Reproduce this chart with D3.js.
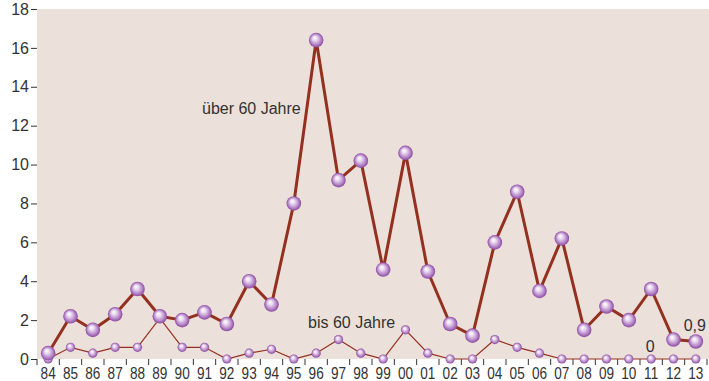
<!DOCTYPE html>
<html>
<head>
<meta charset="utf-8">
<script src="https://cdn.jsdelivr.net/npm/d3@7"></script>
<style>
  html, body { margin: 0; padding: 0; background: #ffffff; }
  svg { display: block; }
</style>
</head>
<body>
<svg id="chart" width="709" height="381"></svg>
<script>
const years = ["84","85","86","87","88","89","90","91","92","93","94","95","96","97","98","99","00","01","02","03","04","05","06","07","08","09","10","11","12","13"];
const ueber60 = [0.3,2.2,1.5,2.3,3.6,2.2,2.0,2.4,1.8,4.0,2.8,8.0,16.4,9.2,10.2,4.6,10.6,4.5,1.8,1.2,6.0,8.6,3.5,6.2,1.5,2.7,2.0,3.6,1.0,0.9];
const bis60 = [0,0.6,0.3,0.6,0.6,2.1,0.6,0.6,0,0.3,0.5,0,0.3,1.0,0.3,0,1.5,0.3,0,0,1.0,0.6,0.3,0,0,0,0,0,0,0];
const yTicks = [0,2,4,6,8,10,12,14,16,18];
const seriesLabels = ["über 60 Jahre", "bis 60 Jahre"];

const svg = d3.select("#chart");
const mLeft = 37, mRight = 707, mTop = 9, mBottom = 359;

const x = d3.scaleBand().domain(years).range([mLeft, mRight]).padding(0);
const y = d3.scaleLinear().domain([0, 18]).range([mBottom, mTop]);
const cx = d => x(d) + x.bandwidth() / 2;

// gradient for spheres
const defs = svg.append("defs");
const grad = defs.append("radialGradient").attr("id", "sphere")
  .attr("cx", "50%").attr("cy", "50%").attr("r", "50%")
  .attr("fx", "38%").attr("fy", "32%");
grad.append("stop").attr("offset", "0%").attr("stop-color", "#ffffff");
grad.append("stop").attr("offset", "30%").attr("stop-color", "#ecdcf2");
grad.append("stop").attr("offset", "70%").attr("stop-color", "#b98bcb");
grad.append("stop").attr("offset", "100%").attr("stop-color", "#8a4a9e");

// background
svg.append("rect").attr("x", mLeft).attr("y", mTop)
  .attr("width", 709 - mLeft).attr("height", mBottom - mTop)
  .attr("fill", "#ece0da");

// y axis
const yAxis = d3.axisLeft(y).tickValues(yTicks).tickSize(6).tickPadding(2).tickFormat(d3.format("d"));
const gy = svg.append("g").attr("transform", `translate(${mLeft},0)`).call(yAxis);
gy.select(".domain").remove();
gy.selectAll(".tick line").attr("stroke", "#333").attr("stroke-width", 1);
gy.selectAll(".tick text").attr("fill", "#333")
  .style("font-family", "'Liberation Sans', Arial, sans-serif").style("font-size", "16px");

// x axis labels
const xAxis = d3.axisBottom(x).tickSize(0).tickPadding(8);
const gx = svg.append("g").attr("transform", `translate(0,${mBottom})`).call(xAxis);
gx.select(".domain").remove();
gx.selectAll(".tick text").attr("fill", "#333")
  .attr("transform", "scale(0.8,1)")
  .style("font-family", "'Liberation Sans', Arial, sans-serif")
  .style("font-size", "17px");
// boundary ticks
const bounds = years.map(d => x(d)).concat([x(years[years.length - 1]) + x.bandwidth()]);
svg.append("g").selectAll("line").data(bounds).join("line")
  .attr("x1", d => d).attr("x2", d => d)
  .attr("y1", mBottom).attr("y2", mBottom + 6)
  .attr("stroke", "#333").attr("stroke-width", 1);

const line = d3.line().x((d, i) => cx(years[i])).y(d => y(d));
const lineColor = "#94301f";

svg.append("path").datum(bis60).attr("d", line)
  .attr("fill", "none").attr("stroke", lineColor).attr("stroke-width", 1.2);
svg.append("path").datum(ueber60).attr("d", line)
  .attr("fill", "none").attr("stroke", lineColor).attr("stroke-width", 3)
  .attr("stroke-linejoin", "round");

svg.append("g").selectAll("circle").data(bis60).join("circle")
  .attr("cx", (d, i) => cx(years[i])).attr("cy", d => y(d)).attr("r", 4.6)
  .attr("fill", "url(#sphere)");
svg.append("g").selectAll("circle").data(ueber60).join("circle")
  .attr("cx", (d, i) => cx(years[i])).attr("cy", d => y(d)).attr("r", 7.3)
  .attr("fill", "url(#sphere)");

const txt = (t, xx, yy, anchor) => svg.append("text").text(t)
  .attr("x", xx).attr("y", yy).attr("text-anchor", anchor || "start")
  .attr("fill", "#333")
  .style("font-family", "'Liberation Sans', Arial, sans-serif").style("font-size", "16px");

txt(seriesLabels[0], 202, 114);
txt(seriesLabels[1], 308, 328);
txt("0", cx("11") - 1, y(0) - 7, "middle");
txt("0,9", cx("13") - 1, y(ueber60[29]) - 11, "middle");
</script>
</body>
</html>
